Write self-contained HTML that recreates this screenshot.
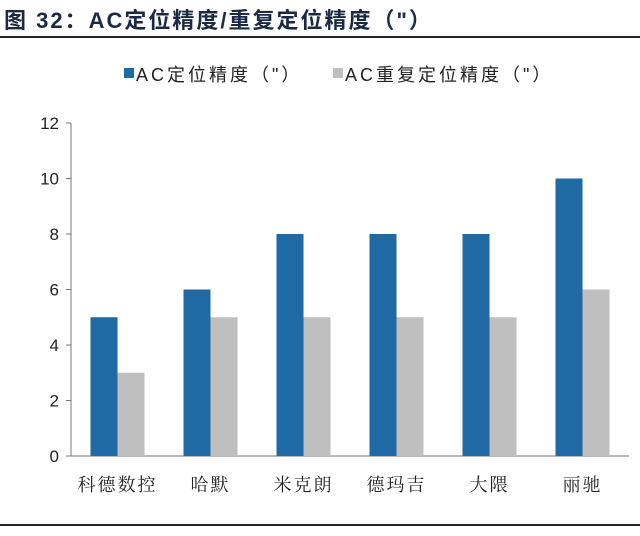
<!DOCTYPE html>
<html><head><meta charset="utf-8"><style>
body{margin:0;background:#fff;width:640px;height:531px;overflow:hidden;font-family:"Liberation Sans","Noto Sans CJK SC",sans-serif}
</style></head><body>
<svg width="640" height="531">
<text x="4" y="28" font-size="22" font-weight="bold" fill="#1a2a44" letter-spacing="2" font-family="Liberation Sans,Noto Sans CJK SC,sans-serif">图 32：AC定位精度/重复定位精度（"）</text>
<rect x="0" y="36" width="640" height="2" fill="#222"/>
<rect x="0" y="524" width="640" height="2" fill="#222"/>
<g>
<rect x="124" y="68" width="10" height="10" fill="#1f6aa5"/>
<text x="136" y="81" font-size="18" fill="#222" letter-spacing="3">AC定位精度（"）</text>
<rect x="333" y="68" width="10" height="10" fill="#bfbfbf"/>
<text x="345" y="81" font-size="18" fill="#222" letter-spacing="3">AC重复定位精度（"）</text>
</g>
<g id="plot"></g>
</svg>
<script>
const categories=["科德数控","哈默","米克朗","德玛吉","大隈","丽驰"];
const acValues=[5,6,8,8,8,10];
const repeatValues=[3,5,5,5,5,6];
const yTicks=[0,2,4,6,8,10,12];
const ns="http://www.w3.org/2000/svg";
const g=document.getElementById('plot');
const x0=71,step=93,y0=456,yTop=123,yMax=12,bw=27;
const yS=v=>y0-(v/yMax)*(y0-yTop);
function mk(t,a){const e=document.createElementNS(ns,t);for(const k in a)e.setAttribute(k,a[k]);g.appendChild(e);return e;}
const ax=mk('line',{x1:x0,y1:yTop,x2:x0,y2:y0,stroke:'#777'});


const bx=mk('line',{x1:x0-5,y1:y0,x2:x0+step*categories.length,y2:y0,stroke:'#777'});


yTicks.forEach(v=>{
 const tk=mk('line',{x1:x0-5,y1:yS(v),x2:x0,y2:yS(v),stroke:'#777'});
 
 
 const t=mk('text',{x:x0-12,y:yS(v)+6,'font-size':17,'text-anchor':'end',fill:'#222'});
 t.textContent=v;
 
 
});
categories.forEach((c,i)=>{
 const cx=x0+step*i+step/2;
 const b1=mk('rect',{x:cx-bw,y:yS(acValues[i]),width:bw,height:y0-yS(acValues[i]),fill:'#1f6aa5'});
 
 
 const b2=mk('rect',{x:cx,y:yS(repeatValues[i]),width:bw,height:y0-yS(repeatValues[i]),fill:'#bfbfbf'});
 
 
 const t=mk('text',{x:cx,y:491,'font-size':18,'text-anchor':'middle',fill:'#222','letter-spacing':'2','font-family':'Noto Serif CJK SC,Liberation Serif,serif'});
 t.textContent=c;
 
 
});
</script>
</body></html>
